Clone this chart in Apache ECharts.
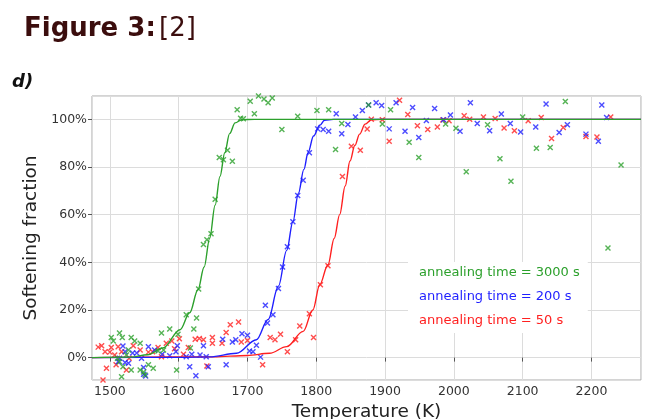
<!DOCTYPE html>
<html>
<head>
<meta charset="utf-8">
<script src="https://cdn.jsdelivr.net/npm/echarts@6/dist/echarts.min.js"></script>
<style>
  html, body { margin: 0; padding: 0; background: #fff; }
  #chart { width: 648px; height: 419px; }
</style>
</head>
<body>
<div id="chart"></div>
<script>
// measured points [temperature K, softening %]
var greenPoints = [
  [1502, 8.4], [1505, 7], [1518, 8.4], [1531, 8.4], [1536, 7], [1544, 6], [1511, -0.3], [1514, -1.7],
  [1519, -3.8], [1531, -5.2], [1517, -8], [1544, -5.2], [1551, -7.3], [1549, -6], [1556, -3], [1563, -4.5],
  [1575, 10.3], [1587, 12], [1599, 9.8], [1617, 4], [1611, 18], [1626, 16.6], [1570, 2.8], [1578, 3.2],
  [1527, 3.2], [1524, 1.1], [1597, -5.2], [1622, 12], [1514, 10.3],
  [1629, 28.8], [1636, 47.5], [1641, 49.5], [1647, 52], [1653, 66.5], [1659, 84], [1665, 83], [1671, 87], [1678, 82.4],
  [1685, 104], [1690, 100.5], [1694, 100.3], [1704, 107.6], [1710, 102.3], [1716, 109.8], [1724, 108.5], [1730, 107],
  [1736, 109], [1750, 95.7], [1773, 101.3], [1801, 103.7], [1818, 104], [1828, 87.3], [1837, 98.3], [1865, 109.9],
  [1876, 106], [1896, 98], [1908, 104], [1935, 90.4], [1949, 84], [1988, 98], [2003, 96.3], [2018, 78],
  [2049, 97.7], [2067, 83.5], [2083, 74], [2100, 101], [2120, 87.9], [2140, 88.2], [2162, 107.5], [2224, 46], [2243, 80.8]
];
var bluePoints = [
  [1519, 4.9], [1522, 2.5], [1514, -0.3], [1512, -1.7], [1522, -2.1], [1527, -2.4], [1533, 1.9], [1539, 1.9],
  [1546, -0.3], [1549, -4.2], [1549, -7], [1552, -7.7], [1556, 4.6], [1565, 3.2], [1576, 1.4], [1587, 0.8],
  [1596, 2.5], [1598, 5], [1611, 0.4], [1616, -3.8], [1625, -7.6], [1619, 1.4], [1631, 1.1], [1636, 5],
  [1640, 0.4], [1643, -3.8], [1664, 7.7], [1669, -3], [1678, 6.5], [1683, 7.5], [1692, 10], [1700, 9.4],
  [1703, 2.8], [1708, 2.5], [1713, 5.2], [1719, 0.2],
  [1726, 22], [1729, 14.5], [1737, 18], [1745, 29], [1751, 38], [1758, 46.5], [1766, 57], [1773, 68],
  [1781, 74.4], [1790, 86], [1802, 96], [1810, 95.7], [1818, 95],
  [1829, 102.3], [1837, 94], [1846, 97.8], [1857, 101], [1867, 103.7], [1876, 106], [1887, 107], [1895, 105.8],
  [1906, 96], [1916, 107], [1929, 95], [1940, 105], [1949, 92.4], [1960, 99.5], [1972, 104.6], [1985, 99.8],
  [1995, 101.8], [2009, 95], [2024, 107], [2034, 98.3], [2052, 95.2], [2069, 102.2], [2082, 98.3], [2097, 94.7],
  [2119, 96.8], [2134, 106.4], [2153, 94.5], [2165, 97.7], [2192, 93.8], [2210, 90.8], [2215, 106], [2222, 100.8]
];
var redPoints = [
  [1483, 4.4], [1488, 5], [1493, 2.5], [1495, -4.5], [1500, 2.3], [1502, 4.2], [1507, 1.1], [1509, -3],
  [1512, 4.6], [1517, 2.5], [1524, -5.2], [1528, -0.3], [1534, 5], [1544, 3.2], [1556, 2.3], [1562, 2.5],
  [1570, 4.2], [1575, 0.4], [1582, 6], [1590, 7], [1594, 3.7], [1601, 7.9], [1607, 1.4], [1614, 4.2],
  [1624, 7.7], [1630, 8], [1636, 7.5], [1641, -3.5], [1649, 8.4], [1649, 6], [1663, 6], [1669, 10.5],
  [1675, 13.8], [1687, 14.9], [1691, 6.5], [1700, 7.2], [1722, -3], [1733, 8.4], [1740, 7.5], [1748, 9.8],
  [1758, 2.5], [1770, 7.5], [1776, 13.3], [1790, 18.4], [1796, 8.4], [1490, -9.4],
  [1806, 30.6], [1817, 38.6], [1838, 76], [1851, 88.7], [1864, 87], [1874, 95.9], [1880, 100],
  [1896, 99.8], [1906, 90.8], [1921, 108], [1933, 102], [1947, 97.3], [1962, 95.7], [1976, 96.8], [1984, 99.7],
  [1993, 99.4], [2015, 101.5], [2023, 100], [2043, 101], [2060, 100.4], [2073, 96.4], [2088, 95.2], [2108, 99.4],
  [2127, 100.8], [2142, 92], [2159, 96.6], [2192, 92.8], [2208, 92.6], [2228, 101]
];
// fitted curves
var greenFit = [
  [1474, 0], [1530, 0.2], [1555, 1.2], [1577, 4], [1602, 11.7], [1616, 18.8], [1628, 28.5], [1637, 38],
  [1645, 50], [1653, 64], [1660, 76], [1667, 86], [1674, 94], [1682, 98.5], [1692, 99.9], [1710, 100], [2272, 100]
];
var blueFit = [
  [1474, 0], [1600, 0.1], [1645, 0.3], [1684, 1.8], [1713, 7.5], [1730, 16], [1745, 30], [1757, 45],
  [1766, 57], [1774, 69], [1782, 79], [1788, 86], [1796, 93], [1805, 97.5], [1812, 99.6], [1825, 100], [2272, 100]
];
var redFit = [
  [1474, 0], [1650, 0.3], [1700, 0.9], [1732, 1.8], [1757, 4.6], [1781, 11], [1795, 20], [1805, 30.6],
  [1817, 39], [1826, 50], [1834, 60], [1842, 72], [1849, 82.5], [1856, 89], [1863, 93.8], [1871, 98],
  [1880, 99.8], [1895, 100], [2272, 100]
];
var seriesNames = ['annealing time = 3000 s', 'annealing time = 200 s', 'annealing time = 50 s'];
var colors = ['#2ca02c', '#1f1fff', '#ff2020'];

var crossSymbol = 'path://M0,0L10,10M10,0L0,10';

function scatterSeries(name, data, color) {
  return {
    name: name,
    type: 'scatter',
    data: data,
    symbol: crossSymbol,
    symbolSize: 5,
    itemStyle: { color: 'rgba(0,0,0,0)', borderColor: color, borderWidth: 1.4 },
    silent: true
  };
}
function fitSeries(name, data, color) {
  return {
    name: name,
    type: 'line',
    data: data,
    smooth: 0.35,
    smoothMonotone: 'x',
    showSymbol: false,
    lineStyle: { color: color, width: 1.4 },
    itemStyle: { color: color },
    silent: true
  };
}

var chart = echarts.init(document.getElementById('chart'));
chart.setOption({
  animation: false,
  grid: {
    left: 92, right: 7, top: 96, bottom: 39, show: true, borderColor: '#a8a8a8', borderWidth: 1,
    containLabel: false, outerBoundsMode: 'none'
  },
  graphic: [
    {
      type: 'text', left: 24, top: 16,
      style: {
        text: '{b|Figure 3:} {n|[2]}',
        rich: {
          b: { fontFamily: 'DejaVu Sans', fontWeight: 'bold', fontSize: 26, fill: '#3b0d0d' },
          n: { fontFamily: 'DejaVu Sans', fontSize: 26, fill: '#3b0d0d' }
        }
      }
    },
    {
      type: 'text', left: 12, top: 73,
      style: { text: 'd)', fontFamily: 'DejaVu Sans', fontWeight: 'bold', fontStyle: 'italic', fontSize: 18, fill: '#111' }
    }
  ],
  legend: {
    orient: 'vertical', left: 408, top: 262,
    icon: 'none', itemWidth: 0, itemHeight: 12, itemGap: 11,
    backgroundColor: '#fff', padding: [4, 8, 6, 6],
    textStyle: { fontFamily: 'DejaVu Sans', fontSize: 13 },
    data: seriesNames.map(function (n, i) { return { name: n, textStyle: { color: colors[i] } }; })
  },
  xAxis: {
    type: 'value', min: 1474, max: 2272, splitNumber: 8,
    name: 'Temperature (K)', nameLocation: 'middle', nameGap: 19,
    nameTextStyle: { fontFamily: 'DejaVu Sans', fontSize: 18.5, color: '#222' },
    axisLine: { show: false },
    axisTick: { show: true, length: 4, lineStyle: { color: '#555' } },
    axisLabel: {
      showMinLabel: false, showMaxLabel: false,
      formatter: function (v) { return String(v); },
      fontFamily: 'DejaVu Sans', fontSize: 12.5, color: '#333', margin: 5
    },
    splitLine: { lineStyle: { color: '#dcdcdc', width: 1 } }
  },
  yAxis: {
    type: 'value', min: -9.4, max: 109.8, splitNumber: 6,
    name: 'Softening fraction', nameLocation: 'middle', nameGap: 44,
    nameTextStyle: { fontFamily: 'DejaVu Sans', fontSize: 18.5, color: '#222' },
    axisLine: { show: false },
    axisTick: { show: true, length: 4, lineStyle: { color: '#555' } },
    axisLabel: { showMinLabel: false, showMaxLabel: false, formatter: '{value}%', fontFamily: 'DejaVu Sans', fontSize: 12.5, color: '#333', margin: 5 },
    splitLine: { lineStyle: { color: '#dcdcdc', width: 1 } }
  },
  series: [
    scatterSeries(seriesNames[2], redPoints, colors[2]),
    scatterSeries(seriesNames[1], bluePoints, colors[1]),
    scatterSeries(seriesNames[0], greenPoints, colors[0]),
    fitSeries(seriesNames[2], redFit, colors[2]),
    fitSeries(seriesNames[1], blueFit, colors[1]),
    fitSeries(seriesNames[0], greenFit, colors[0])
  ]
});
</script>
</body>
</html>
